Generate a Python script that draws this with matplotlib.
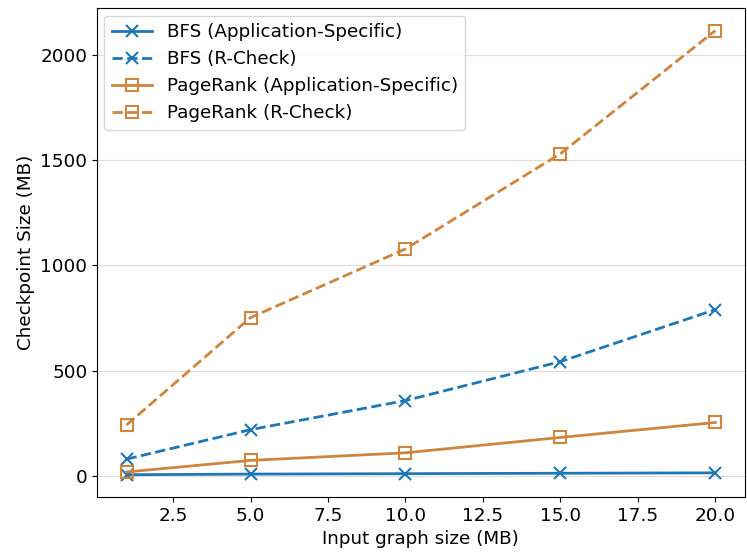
import numpy as np
import matplotlib.pyplot as plt

BLUE = '#1f77b4'
ORANGE = '#cd853f'

sizes = [1, 5, 10, 15, 20]
bfs_app = [6, 9, 11, 13, 15]
bfs_rcheck = [80, 220, 358, 543, 790]
pr_app = [19, 74, 110, 183, 254]
pr_rcheck = [242, 752, 1078, 1530, 2115]

FS = 13.2

fig, ax = plt.subplots(figsize=(7.47, 5.54), dpi=100)

ax.plot(sizes, bfs_app, color=BLUE, linestyle='-', marker='x', markersize=9,
        markeredgewidth=1.5, linewidth=2, label='BFS (Application-Specific)')
ax.plot(sizes, bfs_rcheck, color=BLUE, linestyle='--', marker='x', markersize=9,
        markeredgewidth=1.5, linewidth=2, label='BFS (R-Check)')
ax.plot(sizes, pr_app, color=ORANGE, linestyle='-', marker='s', markersize=9,
        markeredgewidth=1.5, markerfacecolor='none', linewidth=2,
        label='PageRank (Application-Specific)')
ax.plot(sizes, pr_rcheck, color=ORANGE, linestyle='--', marker='s', markersize=9,
        markeredgewidth=1.5, markerfacecolor='none', linewidth=2,
        label='PageRank (R-Check)')

ax.set_xlabel('Input graph size (MB)', fontsize=FS)
ax.set_ylabel('Checkpoint Size (MB)', fontsize=FS)
ax.tick_params(labelsize=FS)
ax.yaxis.grid(True, color='#dddddd', linewidth=0.8)
ax.set_axisbelow(True)
ax.legend(loc='upper left', fontsize=FS, borderaxespad=0.4, handlelength=2.2)

fig.subplots_adjust(left=0.13, right=0.997, top=0.985, bottom=0.103)
fig.savefig('out.png', dpi=100)
